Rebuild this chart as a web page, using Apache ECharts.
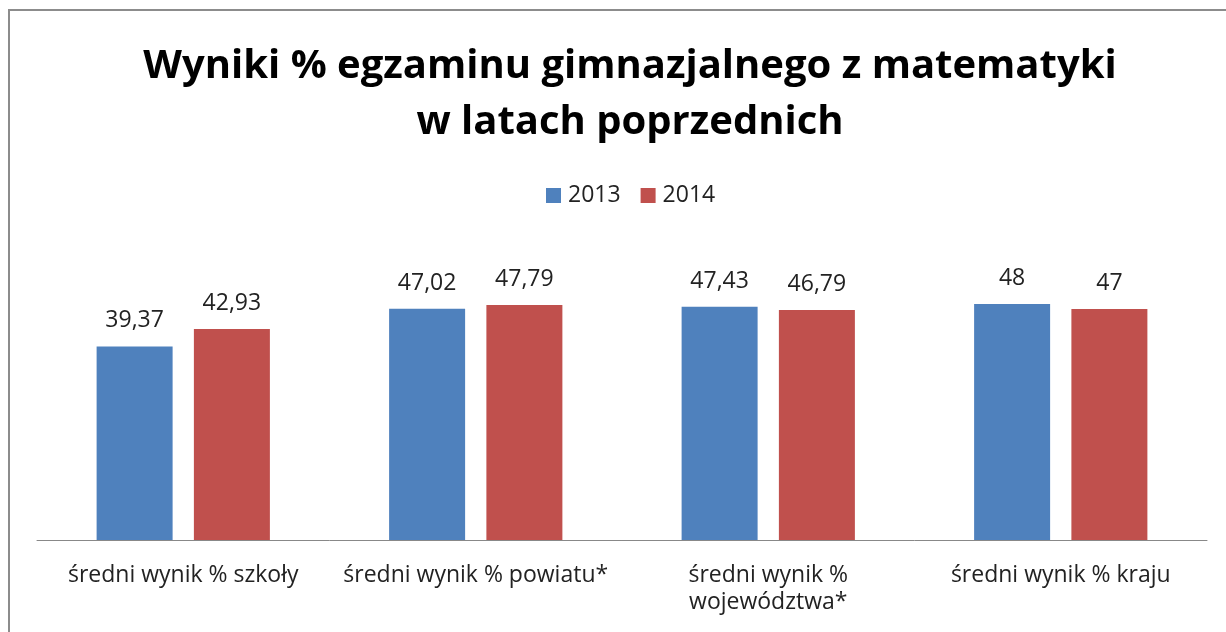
<!DOCTYPE html>
<html>
<head>
<meta charset="utf-8">
<script src="https://cdn.jsdelivr.net/npm/echarts@6/dist/echarts.min.js"></script>
<style>
  html, body { margin: 0; padding: 0; background: #fff; }
  #main { width: 1226px; height: 632px; }
</style>
</head>
<body>
<div id="main"></div>
<script>
// dane z wykresu
const categories = ['średni wynik % szkoły', 'średni wynik % powiatu*', 'średni wynik %\nwojewództwa*', 'średni wynik % kraju'];
const years = ['2013', '2014'];
const values2013 = [39.37, 47.02, 47.43, 48];
const values2014 = [42.93, 47.79, 46.79, 47];

const font = '"Open Sans", sans-serif';
const colors = ['#4f81bd', '#c0504d'];

const chart = echarts.init(document.getElementById('main'));

const fmt = (p) => String(p.value).replace('.', ',');

chart.setOption({
  animation: false,
  title: {
    text: 'Wyniki % egzaminu gimnazjalnego z matematyki\nw latach poprzednich',
    left: 625,
    textAlign: 'center',
    top: 34,
    textStyle: { fontFamily: font, fontWeight: 'bold', fontSize: 40, lineHeight: 56, color: '#000' }
  },
  legend: {
    data: years,
    top: 179,
    left: 541,
    itemWidth: 15,
    itemHeight: 15,
    itemGap: 20,
    icon: 'rect',
    textStyle: { fontFamily: font, fontSize: 23, color: '#222', padding: [0, 0, 0, 2] }
  },
  graphic: [{
    type: 'rect',
    shape: { x: 9, y: 10, width: 1230, height: 640 },
    style: { fill: 'none', stroke: '#8c8c8c', lineWidth: 2 },
    silent: true
  }],
  grid: { left: 37, right: 19, top: 245, bottom: 92 },
  xAxis: {
    type: 'category',
    data: categories,
    axisTick: { show: false },
    axisLine: { lineStyle: { color: '#888', width: 1 } },
    axisLabel: { fontFamily: font, fontSize: 23, color: '#222', margin: 22, lineHeight: 27, interval: 0 }
  },
  yAxis: {
    type: 'value',
    min: 0,
    max: 60,
    show: false,
    splitLine: { show: false }
  },
  series: [
    {
      name: years[0],
      type: 'bar',
      data: values2013,
      barWidth: 76,
      barGap: '28%',
      itemStyle: { color: colors[0] },
      label: { show: true, position: 'top', distance: 14, formatter: fmt, fontFamily: font, fontSize: 23, color: '#222' }
    },
    {
      name: years[1],
      type: 'bar',
      data: values2014,
      barWidth: 76,
      itemStyle: { color: colors[1] },
      label: { show: true, position: 'top', distance: 14, formatter: fmt, fontFamily: font, fontSize: 23, color: '#222' }
    }
  ]
});
</script>
</body>
</html>
